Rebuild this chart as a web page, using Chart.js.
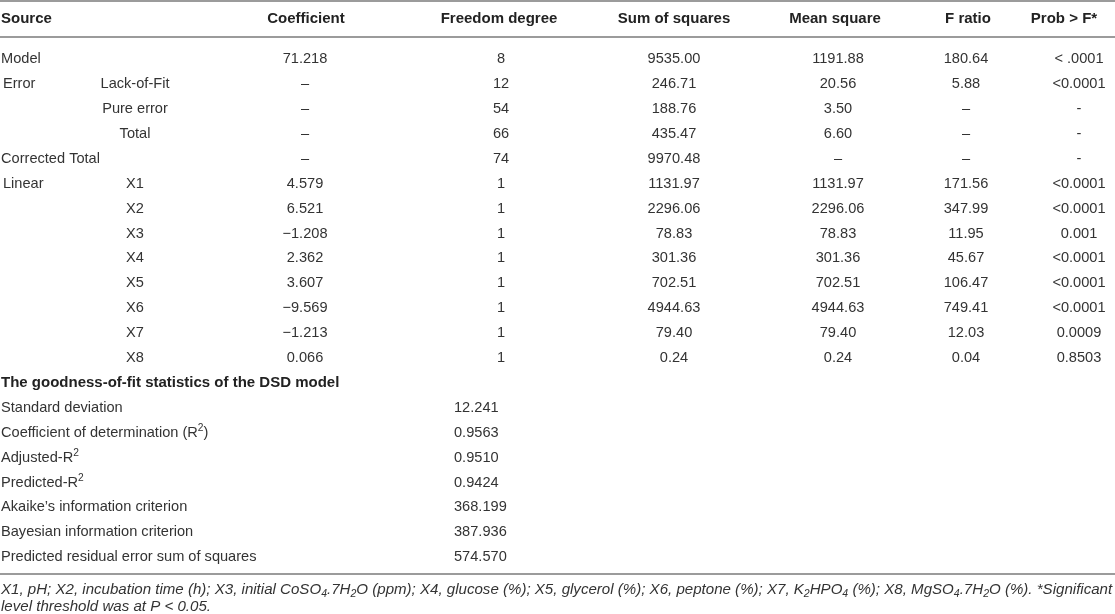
<!DOCTYPE html>
<html>
<head>
<meta charset="utf-8">
<script src="https://cdn.jsdelivr.net/npm/chart.js@4.4.1/dist/chart.umd.min.js"></script>
<style>
  html, body { margin: 0; padding: 0; background: #fff; }
  #wrap { width: 1115px; height: 614px; position: relative; }
</style>
</head>
<body>
<div id="wrap"><canvas id="anovaTable"></canvas></div>
<script>
const headers = ['Source', 'Coefficient', 'Freedom degree', 'Sum of squares', 'Mean square', 'F ratio', 'Prob > F*'];
const sourceLabels = ['Model', 'Error', '', '', 'Corrected Total', 'Linear', '', '', '', '', '', '', ''];
const termLabels = ['', 'Lack-of-Fit', 'Pure error', 'Total', '', 'X1', 'X2', 'X3', 'X4', 'X5', 'X6', 'X7', 'X8'];
const coefficient = ['71.218', '–', '–', '–', '–', '4.579', '6.521', '−1.208', '2.362', '3.607', '−9.569', '−1.213', '0.066'];
const freedomDegree = ['8', '12', '54', '66', '74', '1', '1', '1', '1', '1', '1', '1', '1'];
const sumOfSquares = ['9535.00', '246.71', '188.76', '435.47', '9970.48', '1131.97', '2296.06', '78.83', '301.36', '702.51', '4944.63', '79.40', '0.24'];
const meanSquare = ['1191.88', '20.56', '3.50', '6.60', '–', '1131.97', '2296.06', '78.83', '301.36', '702.51', '4944.63', '79.40', '0.24'];
const fRatio = ['180.64', '5.88', '–', '–', '–', '171.56', '347.99', '11.95', '45.67', '106.47', '749.41', '12.03', '0.04'];
const probF = ['< .0001', '<0.0001', '-', '-', '-', '<0.0001', '<0.0001', '0.001', '<0.0001', '<0.0001', '<0.0001', '0.0009', '0.8503'];

const fitTitle = 'The goodness-of-fit statistics of the DSD model';
const fitLabels = ['Standard deviation', 'Coefficient of determination (R^2)', 'Adjusted-R^2', 'Predicted-R^2',
  'Akaike’s information criterion', 'Bayesian information criterion', 'Predicted residual error sum of squares'];
const fitValues = ['12.241', '0.9563', '0.9510', '0.9424', '368.199', '387.936', '574.570'];

// "_" = next char subscript, "^" = next char superscript
const footnote = [
  'X1, pH; X2, incubation time (h); X3, initial CoSO_4.7H_2O (ppm); X4, glucose (%); X5, glycerol (%); X6, peptone (%); X7, K_2HPO_4 (%); X8, MgSO_4.7H_2O (%). *Significant',
  'level threshold was at P < 0.05.'
];

// ---- layout (in table units, mapped through the chart scales) ----
const FONT = '"Liberation Sans", Arial, Helvetica, sans-serif';
const TEXT = '#333333';
const RULE = '#7a7a7a';
const headerX = [1, 306, 499, 674, 835, 968, 1064];
const colX = { term: 135, coef: 305, df: 501, ss: 674, ms: 838, f: 966, p: 1079 };
const fitValueX = 454;
const headerY = 18;
const firstRowY = 58;
const rowStep = 24.9;
const rulesY = [1, 37, 574];
const footY = [589, 606];

function parseRich(s) {
  const segs = [];
  for (let i = 0; i < s.length; i++) {
    const c = s[i];
    if ((c === '_' || c === '^') && i + 1 < s.length) {
      segs.push({ t: s[i + 1], m: c === '_' ? 'sub' : 'sup' });
      i++;
    } else if (segs.length && segs[segs.length - 1].m === 'n') {
      segs[segs.length - 1].t += c;
    } else {
      segs.push({ t: c, m: 'n' });
    }
  }
  return segs;
}

function fontFor(style, weight, size) {
  return style + ' ' + weight + ' ' + size + 'px ' + FONT;
}

function richWidth(ctx, s, size, weight, style) {
  let w = 0;
  parseRich(s).forEach(seg => {
    ctx.font = fontFor(style, weight, seg.m === 'n' ? size : size * 0.7);
    w += ctx.measureText(seg.t).width;
  });
  return w;
}

function drawRich(ctx, s, x, y, align, size, weight, style) {
  weight = weight || 'normal';
  style = style || 'normal';
  const w = richWidth(ctx, s, size, weight, style);
  let cx = align === 'center' ? x - w / 2 : (align === 'right' ? x - w : x);
  const base = y + size * 0.36;
  ctx.textAlign = 'left';
  ctx.textBaseline = 'alphabetic';
  parseRich(s).forEach(seg => {
    let by = base;
    let fs = size;
    if (seg.m === 'sub') { fs = size * 0.7; by = base + size * 0.2; }
    if (seg.m === 'sup') { fs = size * 0.7; by = base - size * 0.4; }
    ctx.font = fontFor(style, weight, fs);
    ctx.fillText(seg.t, cx, by);
    cx += ctx.measureText(seg.t).width;
  });
}

const tablePlugin = {
  id: 'tableCells',
  afterDraw(chart) {
    const ctx = chart.ctx;
    const xs = chart.scales.x;
    const ys = chart.scales.y;
    const px = v => xs.getPixelForValue(v);
    const py = v => ys.getPixelForValue(v);
    const rowY = i => py(firstRowY + rowStep * i);
    ctx.save();
    ctx.fillStyle = TEXT;

    // rules
    ctx.strokeStyle = RULE;
    ctx.lineWidth = 1.3;
    rulesY.forEach(r => {
      ctx.beginPath();
      ctx.moveTo(px(0), py(r));
      ctx.lineTo(px(1115), py(r));
      ctx.stroke();
    });

    // header
    ctx.fillStyle = '#222';
    headers.forEach((h, i) => {
      drawRich(ctx, h, px(headerX[i]), py(headerY), i === 0 ? 'left' : 'center', 15, 'bold');
    });
    ctx.fillStyle = TEXT;

    // ANOVA rows
    const size = 14.6;
    sourceLabels.forEach((lab, i) => {
      const y = rowY(i);
      if (lab) drawRich(ctx, lab, px(lab === 'Error' || lab === 'Linear' ? 3 : 1), y, 'left', size);
      if (termLabels[i]) drawRich(ctx, termLabels[i], px(colX.term), y, 'center', size);
      drawRich(ctx, coefficient[i], px(colX.coef), y, 'center', size);
      drawRich(ctx, freedomDegree[i], px(colX.df), y, 'center', size);
      drawRich(ctx, sumOfSquares[i], px(colX.ss), y, 'center', size);
      drawRich(ctx, meanSquare[i], px(colX.ms), y, 'center', size);
      drawRich(ctx, fRatio[i], px(colX.f), y, 'center', size);
      drawRich(ctx, probF[i], px(colX.p), y, 'center', size);
    });

    // goodness-of-fit block
    const t0 = sourceLabels.length;
    ctx.fillStyle = '#222';
    drawRich(ctx, fitTitle, px(1), rowY(t0), 'left', 15, 'bold');
    ctx.fillStyle = TEXT;
    fitLabels.forEach((lab, i) => {
      drawRich(ctx, lab, px(1), rowY(t0 + 1 + i), 'left', size);
      drawRich(ctx, fitValues[i], px(fitValueX), rowY(t0 + 1 + i), 'left', size);
    });

    // footnote (italic), first line fills the table width
    const w0 = richWidth(ctx, footnote[0], 13, 'normal', 'italic');
    const fs = 13 * (px(1113) - px(1)) / w0;
    footnote.forEach((line, i) => {
      drawRich(ctx, line, px(1), py(footY[i]), 'left', fs, 'normal', 'italic');
    });
    ctx.restore();
  }
};

new Chart(document.getElementById('anovaTable').getContext('2d'), {
  type: 'scatter',
  data: { datasets: [] },
  options: {
    responsive: true,
    maintainAspectRatio: false,
    animation: false,
    events: [],
    layout: { padding: 0 },
    plugins: { legend: { display: false }, tooltip: { enabled: false } },
    scales: {
      x: { type: 'linear', min: 0, max: 1115, display: false },
      y: { type: 'linear', min: 0, max: 614, reverse: true, display: false }
    }
  },
  plugins: [tablePlugin]
});
</script>
</body>
</html>
